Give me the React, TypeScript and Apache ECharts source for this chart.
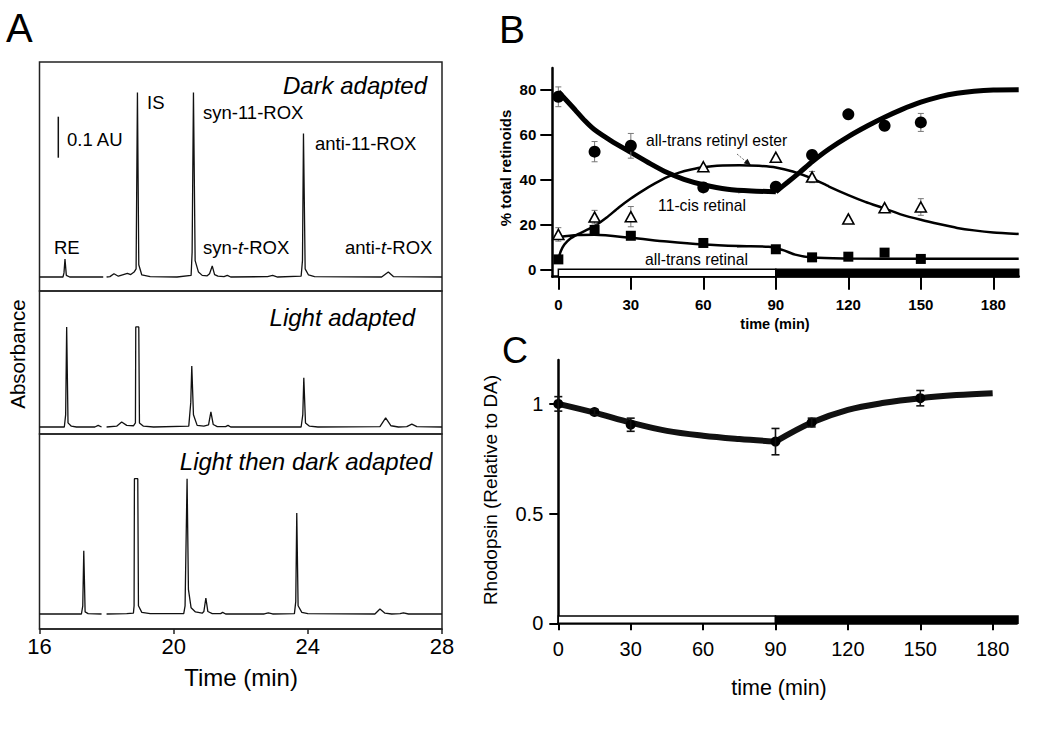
import React, { useEffect, useRef } from "react";
import * as echarts from "echarts";

const SANS = "'Liberation Sans', Arial, Helvetica, sans-serif";

// ---------- Panel A: chromatograms [time (min), absorbance (AU)] ----------
const aTicks = [16, 20, 24, 28];
const darkTrace: any[] = [
  [16, 0], [16.7, 0], [16.73, 0.01], [16.76, 0.044], [16.8, 0.004], [16.9, 0], [17.9, 0], [17.95, "-"], [18.0, 0],
  [18.1, 0.001], [18.22, 0.008], [18.35, 0.002], [18.5, 0.006], [18.62, 0.009], [18.72, 0.006], [18.82, 0.012],
  [18.88, 0.02], [18.92, 0.45], [18.96, 0.03], [19.05, 0.005], [19.3, 0.001], [20.1, 0], [20.52, 0.004],
  [20.55, 0.06], [20.59, 0.45], [20.64, 0.04], [20.74, 0.012], [20.85, 0.004], [21.0, 0.003], [21.07, 0.008],
  [21.15, 0.027], [21.22, 0.006], [21.32, 0.002], [21.5, 0.001], [21.6, 0.004], [21.7, 0], [22.8, 0.001],
  [22.95, 0.004], [23.1, 0], [23.8, 0.002], [23.84, 0.04], [23.87, 0.35], [23.92, 0.02], [24.02, 0.005],
  [24.2, 0.001], [26.2, 0], [26.4, 0.012], [26.55, 0.001], [28, 0],
];
const lightTrace: any[] = [
  [16, 0], [16.74, 0], [16.78, 0.03], [16.81, 0.244], [16.85, 0.01], [16.95, 0.002], [17.1, 0], [17.65, 0],
  [17.75, 0.004], [17.85, 0], [17.92, "-"], [18.0, 0], [18.3, 0.002], [18.45, 0.012], [18.6, 0.004],
  [18.8, 0.003], [18.86, 0.01], [18.87, 0.244], [18.96, 0.244], [18.98, 0.01], [19.1, 0.002], [19.4, 0],
  [20.45, 0.002], [20.51, 0.06], [20.54, 0.149], [20.59, 0.03], [20.7, 0.004], [20.9, 0.002], [21.04, 0.005],
  [21.11, 0.037], [21.18, 0.006], [21.3, 0.001], [21.55, 0.001], [21.62, 0.004], [21.7, 0], [23.8, 0],
  [23.85, 0.03], [23.88, 0.12], [23.93, 0.01], [24.05, 0.002], [24.3, 0], [26.15, 0.001], [26.32, 0.022],
  [26.48, 0.003], [26.7, 0], [26.95, 0.001], [27.1, 0.007], [27.25, 0.001], [28, 0],
];
const lightDarkTrace: any[] = [
  [16, 0], [17.25, 0], [17.29, 0.02], [17.32, 0.154], [17.36, 0.005], [17.45, 0.001], [17.85, 0], [17.92, "-"],
  [18.0, 0], [18.6, 0.001], [18.8, 0.002], [18.82, 0.02], [18.83, 0.33], [18.93, 0.33], [18.95, 0.02],
  [19.05, 0.004], [19.3, 0.001], [20.3, 0.001], [20.34, 0.02], [20.4, 0.33], [20.44, 0.06], [20.52, 0.015],
  [20.65, 0.005], [20.85, 0.002], [20.9, 0.006], [20.96, 0.039], [21.02, 0.006], [21.15, 0.001], [21.4, 0.001],
  [21.46, 0.004], [21.55, 0], [22.7, 0], [22.82, 0.003], [22.95, 0], [23.6, 0.001], [23.64, 0.03],
  [23.67, 0.246], [23.71, 0.02], [23.82, 0.004], [24.0, 0.001], [26.0, 0], [26.15, 0.012], [26.3, 0.002],
  [26.5, 0], [26.75, 0.001], [26.85, 0.003], [27.0, 0], [28, 0],
];

// ---------- Panel B: % total retinoids ----------
const bTimes = [0, 15, 30, 60, 90, 105, 120, 135, 150];
const cisRetinal = [76.7, 52.3, 54.9, 36.4, 36.7, 50.8, 68.9, 63.8, 65.3];
const cisErr = [4.4, 4.5, 5.5, 0, 0, 0, 0, 0, 4];
const retinylEster = [15.5, 23.2, 23.4, 45.6, 49.8, 41.0, 22.4, 27.4, 27.7];
const esterErr = [3, 3, 4.5, 0, 0, 2.5, 0, 0, 3.7];
const transRetinal = [4.4, 17.5, 14.9, 11.7, 8.9, 5.3, 5.6, 7.4, 4.6];
const cisFitLight = [[0, 78.9], [3, 75.5], [7, 70.8], [11, 66], [15, 62], [22, 57], [30, 52], [38, 47], [45, 43], [52, 40], [60, 37.6], [70, 35.6], [80, 34.8], [90, 34.5]];
const cisFitDark = [[90, 34.5], [95, 38.8], [100, 43.2], [105, 47.8], [112, 53.5], [120, 59], [128, 63.8], [135, 67.6], [142, 71], [150, 74.3], [158, 76.8], [165, 78.3], [172, 79.2], [180, 79.7], [190.5, 79.8]];
const esterFit = [[0, 4.5], [1, 8], [2.5, 11], [5, 13.7], [8, 15.5], [12, 17.6], [15, 19.2], [20, 23], [25, 27.5], [30, 31.5], [35, 35], [40, 38.2], [45, 41], [50, 43], [55, 44.4], [60, 45.4], [68, 46.1], [75, 46.3], [83, 46], [90, 45.3], [97, 43.5], [105, 40.4], [112, 36.8], [120, 33], [127, 30], [135, 27], [142, 24.3], [150, 22], [158, 20], [165, 18.4], [172, 17.3], [180, 16.4], [190.5, 15.7]];
const retinalFit = [[0, 14.2], [8, 15.2], [15, 15.3], [30, 14], [45, 12.3], [60, 11], [75, 10.3], [87, 10], [93, 8.5], [98, 6.5], [105, 5.2], [120, 4.8], [150, 4.7], [190.5, 4.7]];
const bYTicks = [0, 20, 40, 60, 80];
const timeTicks = [0, 30, 60, 90, 120, 150, 180];

// ---------- Panel C: rhodopsin ----------
const cTimes = [0, 15, 30, 90, 105, 150];
const rhodopsin = [1.0, 0.963, 0.905, 0.828, 0.915, 1.026];
const rhoErr = [0.033, 0.012, 0.03, 0.06, 0.02, 0.035];
const rhoFitLight = [[0, 1.0], [15, 0.96], [30, 0.915], [45, 0.877], [60, 0.855], [75, 0.84], [90, 0.828]];
const rhoFitDark = [[90, 0.828], [105, 0.915], [120, 0.973], [135, 1.005], [150, 1.026], [165, 1.04], [180, 1.049]];
const cYTicks = [0, 0.5, 1];

// light / dark periods (min)
const lightPeriod = [0, 90];
const darkPeriod = [90, 190.5];

function errSeries(idx: number, times: number[], vals: number[], errs: number[], color: string, lw: number, cap: number, z: number) {
  const data = times.map((t, i) => [t, vals[i] - errs[i], vals[i] + errs[i]]).filter((_, i) => errs[i] > 0);
  return {
    type: "custom", xAxisIndex: idx, yAxisIndex: idx, z, silent: true, data,
    renderItem: (_p: any, api: any) => {
      const x = api.value(0);
      const a = api.coord([x, api.value(2)]);
      const b = api.coord([x, api.value(1)]);
      const style = { stroke: color, lineWidth: lw };
      return {
        type: "group", children: [
          { type: "line", shape: { x1: a[0], y1: a[1], x2: b[0], y2: b[1] }, style },
          { type: "line", shape: { x1: a[0] - cap, y1: a[1], x2: a[0] + cap, y2: a[1] }, style },
          { type: "line", shape: { x1: b[0] - cap, y1: b[1], x2: b[0] + cap, y2: b[1] }, style },
        ],
      };
    },
  };
}

function phaseSeries(idx: number, yTop: number, yBot: number) {
  return {
    type: "custom", xAxisIndex: idx, yAxisIndex: idx, z: 6, silent: true,
    data: [[lightPeriod[0], lightPeriod[1], 0], [darkPeriod[0], darkPeriod[1], 1]],
    renderItem: (_p: any, api: any) => {
      const a = api.coord([api.value(0), yTop]);
      const b = api.coord([api.value(1), yBot]);
      const dark = api.value(2) === 1;
      return {
        type: "rect",
        shape: { x: a[0], y: a[1], width: b[0] - a[0], height: b[1] - a[1] },
        style: { fill: dark ? "#000" : "#fff", stroke: "#000", lineWidth: 1.5 },
      };
    },
  };
}

function txt(text: string, x: number, y: number, size: number, o: any = {}) {
  const align = o.align || "left";
  return {
    type: "text", x, y, rotation: o.rot || 0, silent: true, z: 100,
    style: {
      text, fontSize: size, fontFamily: o.ff || SANS, fontWeight: o.fw || "normal", fontStyle: o.fs || "normal",
      fill: o.fill || "#000", align, textAlign: align, verticalAlign: "middle", textVerticalAlign: "middle",
      rich: o.rich,
    },
  };
}

const italicRich = (size: number) => ({ i: { fontStyle: "italic", fontSize: size, fontFamily: SANS, fill: "#000" } });

export default function App() {
  const ref = useRef<HTMLDivElement>(null);
  useEffect(() => {
    if (!ref.current) return;
    const chart = echarts.init(ref.current, undefined, { renderer: "svg" });
    const aGrid = { left: 39.5, width: 402.5, show: true, borderColor: "#222", borderWidth: 1.5, backgroundColor: "transparent" };
    const hidden = { show: false };
    const traceLine = { width: 1.3, color: "#111" };
    const axisLineB = { show: true, onZero: false, lineStyle: { color: "#000", width: 2.5 } };
    const option: any = {
      animation: false,
      backgroundColor: "#fff",
      grid: [
        { ...aGrid, top: 62, height: 229 },
        { ...aGrid, top: 291, height: 143 },
        { ...aGrid, top: 434, height: 195 },
        { left: 552.3, top: 68, width: 466.4, height: 208.7 },
        { left: 558.3, top: 360, width: 458.5, height: 263.3 },
      ],
      xAxis: [
        { gridIndex: 0, type: "value", min: 16, max: 28, ...hidden },
        { gridIndex: 1, type: "value", min: 16, max: 28, ...hidden },
        {
          gridIndex: 2, type: "value", min: 16, max: 28, interval: 4,
          axisLine: { show: true, onZero: false, lineStyle: { color: "#222", width: 1.5 } },
          axisTick: { show: true, length: 5, lineStyle: { color: "#222", width: 1.5 }, customValues: aTicks },
          axisLabel: { fontSize: 22, color: "#000", fontFamily: SANS, margin: 6, customValues: aTicks },
          splitLine: { show: false },
        },
        {
          gridIndex: 3, type: "value", min: -2.5, max: 190.5,
          axisLine: axisLineB,
          axisTick: { show: true, length: 13, lineStyle: { color: "#000", width: 2 }, customValues: timeTicks },
          axisLabel: { fontSize: 15, fontWeight: "bold", color: "#000", fontFamily: SANS, margin: 20, customValues: timeTicks },
          splitLine: { show: false },
        },
        {
          gridIndex: 4, type: "value", min: 0, max: 190,
          axisLine: axisLineB,
          axisTick: { show: true, length: 7, lineStyle: { color: "#000", width: 2 }, customValues: timeTicks },
          axisLabel: { fontSize: 20, color: "#000", fontFamily: SANS, margin: 16, customValues: timeTicks },
          splitLine: { show: false },
        },
      ],
      yAxis: [
        { gridIndex: 0, type: "value", min: -0.0341, max: 0.5244, ...hidden },
        { gridIndex: 1, type: "value", min: -0.0171, max: 0.3317, ...hidden },
        { gridIndex: 2, type: "value", min: -0.0366, max: 0.439, ...hidden },
        {
          gridIndex: 3, type: "value", min: -3.3, max: 89.5,
          axisLine: axisLineB,
          axisTick: { show: true, length: 12, lineStyle: { color: "#000", width: 2 }, customValues: bYTicks },
          axisLabel: { fontSize: 15, fontWeight: "bold", color: "#000", fontFamily: SANS, margin: 16, customValues: bYTicks },
          splitLine: { show: false },
        },
        {
          gridIndex: 4, type: "value", min: 0, max: 1.2,
          axisLine: axisLineB,
          axisTick: { show: true, length: 9, lineStyle: { color: "#000", width: 2 }, customValues: cYTicks },
          axisLabel: { fontSize: 20, color: "#000", fontFamily: SANS, margin: 15, customValues: cYTicks },
          splitLine: { show: false },
        },
      ],
      series: [
        { type: "line", xAxisIndex: 0, yAxisIndex: 0, data: darkTrace, showSymbol: false, symbol: "none", lineStyle: traceLine, silent: true },
        { type: "line", xAxisIndex: 1, yAxisIndex: 1, data: lightTrace, showSymbol: false, symbol: "none", lineStyle: traceLine, silent: true },
        { type: "line", xAxisIndex: 2, yAxisIndex: 2, data: lightDarkTrace, showSymbol: false, symbol: "none", lineStyle: traceLine, silent: true },

        // Panel B fits
        { type: "line", xAxisIndex: 3, yAxisIndex: 3, data: cisFitLight, smooth: 0.2, symbol: "none", lineStyle: { width: 5, color: "#000" }, z: 2 },
        { type: "line", xAxisIndex: 3, yAxisIndex: 3, data: cisFitDark, smooth: 0.2, symbol: "none", lineStyle: { width: 5, color: "#000" }, z: 2 },
        { type: "line", xAxisIndex: 3, yAxisIndex: 3, data: esterFit, smooth: 0.2, symbol: "none", lineStyle: { width: 2.5, color: "#000" }, z: 2 },
        { type: "line", xAxisIndex: 3, yAxisIndex: 3, data: retinalFit, smooth: 0.3, symbol: "none", lineStyle: { width: 2.5, color: "#000" }, z: 2 },
        errSeries(3, bTimes, cisRetinal, cisErr, "#777", 1, 3, 3),
        errSeries(3, bTimes, retinylEster, esterErr, "#777", 1, 3, 3),
        { type: "scatter", xAxisIndex: 3, yAxisIndex: 3, data: bTimes.map((t, i) => [t, cisRetinal[i]]), symbol: "circle", symbolSize: 12, itemStyle: { color: "#000", opacity: 1 }, z: 4 },
        { type: "scatter", xAxisIndex: 3, yAxisIndex: 3, data: bTimes.map((t, i) => [t, retinylEster[i]]), symbol: "triangle", symbolSize: [11, 10], itemStyle: { color: "#fff", borderColor: "#000", borderWidth: 1.6, opacity: 1 }, z: 4 },
        { type: "scatter", xAxisIndex: 3, yAxisIndex: 3, data: bTimes.map((t, i) => [t, transRetinal[i]]), symbol: "rect", symbolSize: 10, itemStyle: { color: "#000", opacity: 1 }, z: 4 },
        phaseSeries(3, 0, -3.3),

        // Panel C
        { type: "line", xAxisIndex: 4, yAxisIndex: 4, data: rhoFitLight, smooth: 0.35, symbol: "none", lineStyle: { width: 6, color: "#111" }, z: 2 },
        { type: "line", xAxisIndex: 4, yAxisIndex: 4, data: rhoFitDark, smooth: 0.35, symbol: "none", lineStyle: { width: 6, color: "#111" }, z: 2 },
        { type: "scatter", xAxisIndex: 4, yAxisIndex: 4, data: cTimes.map((t, i) => [t, rhodopsin[i]]), symbol: "circle", symbolSize: 10, itemStyle: { color: "#000", opacity: 1 }, z: 3 },
        errSeries(4, cTimes, rhodopsin, rhoErr, "#111", 1.6, 4, 4),
        phaseSeries(4, 0.033, 0),
      ],
      graphic: [
        // Panel letters
        txt("A", 6, 28, 40),
        txt("B", 499, 29, 39),
        txt("C", 502, 350, 36),
        // Panel A texts
        txt("Absorbance", 17, 354, 20.5, { rot: Math.PI / 2, align: "center" }),
        txt("Time (min)", 241, 677, 24, { align: "center" }),
        txt("Dark adapted", 427, 85, 24, { align: "right", fs: "italic" }),
        txt("Light adapted", 415, 317, 24, { align: "right", fs: "italic" }),
        txt("Light then dark adapted", 432, 461, 24, { align: "right", fs: "italic" }),
        txt("0.1 AU", 67, 139, 18.5),
        txt("IS", 147, 102, 18.5),
        txt("syn-11-ROX", 203, 112, 18.5),
        txt("anti-11-ROX", 315, 143, 18.5),
        txt("RE", 54, 247, 18.5),
        txt("syn-{i|t}-ROX", 203, 247, 18.5, { rich: italicRich(18.5) }),
        txt("anti-{i|t}-ROX", 345, 247, 18.5, { rich: italicRich(18.5) }),
        { type: "line", silent: true, shape: { x1: 58.3, y1: 116.7, x2: 58.3, y2: 157.7 }, style: { stroke: "#111", lineWidth: 1.5 } },
        // Panel B texts
        txt("% total retinoids", 505, 168, 15, { rot: Math.PI / 2, align: "center", fw: "bold" }),
        txt("time (min)", 775, 324, 14.5, { align: "center", fw: "bold" }),
        txt("all-trans retinyl ester", 646, 140, 15.7),
        txt("11-cis retinal", 702, 205, 15.7, { align: "center" }),
        txt("all-trans retinal", 645, 259, 15.7),
        { type: "line", silent: true, shape: { x1: 737, y1: 154, x2: 746, y2: 161.5 }, style: { stroke: "#666", lineWidth: 1, lineDash: [2, 1.5] } },
        { type: "polygon", silent: true, shape: { points: [[751, 165.5], [743.7, 163.3], [747.5, 158.7]] }, style: { fill: "#111" } },
        { type: "line", silent: true, shape: { x1: 738, y1: 193, x2: 747, y2: 191.5 }, style: { stroke: "#888", lineWidth: 1 } },
        { type: "line", silent: true, shape: { x1: 737, y1: 247.5, x2: 748, y2: 246.5 }, style: { stroke: "#888", lineWidth: 1 } },
        // Panel C texts
        txt("Rhodopsin (Relative to DA)", 490, 490, 19, { rot: Math.PI / 2, align: "center" }),
        txt("time (min)", 779, 688, 21.5, { align: "center" }),
      ],
    };
    chart.setOption(option);
    return () => chart.dispose();
  }, []);
  return <div ref={ref} style={{ position: "fixed", left: 0, top: 0, width: 1050, height: 734, background: "#fff" }} />;
}
